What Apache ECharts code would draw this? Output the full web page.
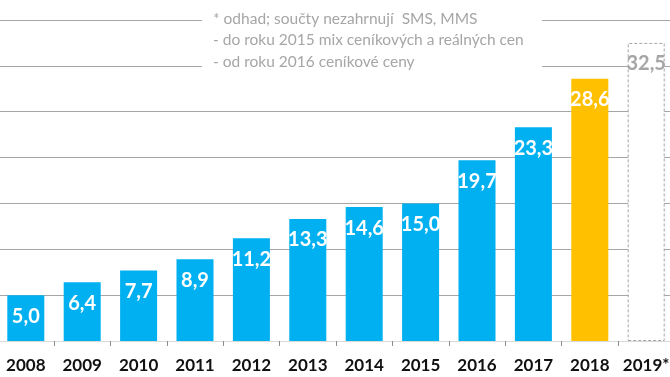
<!DOCTYPE html>
<html>
<head>
<meta charset="utf-8">
<script src="https://cdn.jsdelivr.net/npm/echarts@6/dist/echarts.min.js"></script>
<style>html,body{margin:0;padding:0;background:#fff;}#c{width:670px;height:377px;}</style>
</head>
<body>
<div id="c"></div>
<script>
const categories = ['2008','2009','2010','2011','2012','2013','2014','2015','2016','2017','2018','2019*'];
const values = [5.0, 6.4, 7.7, 8.9, 11.2, 13.3, 14.6, 15.0, 19.7, 23.3, 28.6, 32.5];
const noteLines = [
  '* odhad; součty nezahrnují  SMS, MMS',
  '- do roku 2015 mix ceníkových a reálných cen',
  '- od roku 2016 ceníkové ceny'
];

const BLUE = '#00b0f0', GOLD = '#ffc000', GRAY = '#a6a6a6';
const data = values.map((v, i) => {
  if (i === values.length - 1) {
    return { value: v,
      itemStyle: { color: '#fff', borderColor: GRAY, borderWidth: 1, borderType: [3, 2] },
      label: { color: GRAY } };
  }
  if (i === values.length - 2) return { value: v, itemStyle: { color: GOLD } };
  return { value: v };
});

const chart = echarts.init(document.getElementById('c'));
chart.setOption({
  animation: false,
  grid: { left: -2.4, right: -4.4, top: 20, bottom: 36, containLabel: false, outerBoundsMode: 'none' },
  xAxis: {
    type: 'category', data: categories,
    axisLine: { show: true, lineStyle: { color: '#d9d9d9', width: 1 } },
    axisTick: { show: true, length: 5, interval: 0, lineStyle: { color: '#8c8c8c' } },
    axisLabel: { interval: 0, color: '#111', fontFamily: 'Lato', fontWeight: 'bold', fontSize: 17, margin: 16 }
  },
  yAxis: {
    type: 'value', min: 0, max: 35, interval: 5,
    axisLabel: { show: false }, axisLine: { show: false }, axisTick: { show: false },
    splitLine: { lineStyle: { color: GRAY, width: 1 } }
  },
  series: [{
    type: 'bar', data: data, barWidth: 37,
    itemStyle: { color: BLUE },
    label: {
      show: true, position: 'insideTop', distance: 11,
      color: '#fff', fontFamily: 'Lato', fontWeight: 'bold', fontSize: 20,
      formatter: p => p.value.toFixed(1).replace('.', ',')
    }
  }],
  graphic: [
    { type: 'rect', z: 100, shape: { x: 202, y: 0, width: 340, height: 78 }, style: { fill: '#fff' } },
    { type: 'text', z: 101, x: 213, y: 8, style: {
        text: noteLines.join('\n'), fill: GRAY, font: '15.5px Lato', lineHeight: 21.5 } }
  ]
});
</script>
</body>
</html>
